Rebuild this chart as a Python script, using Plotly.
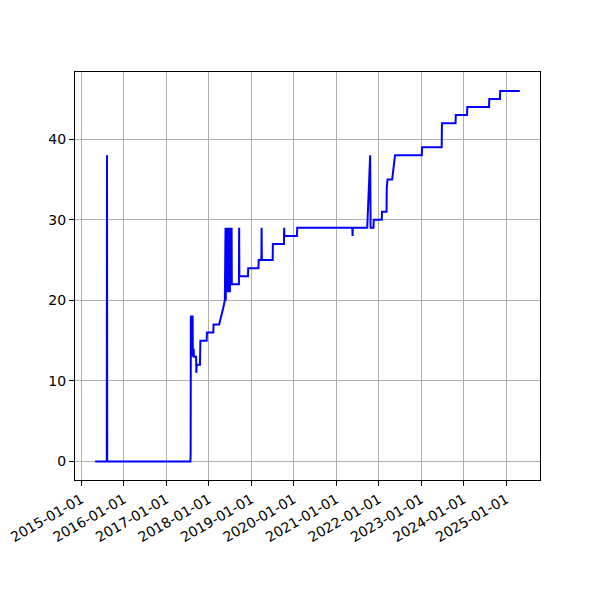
import plotly.graph_objects as go

dates = [
    "2015-05-01", "2015-08-09", "2015-08-11", "2015-08-13",
    "2017-07-28", "2017-07-30", "2017-08-01", "2017-08-16", "2017-08-18", "2017-08-25",
    "2017-08-28", "2017-09-15", "2017-09-17", "2017-09-20", "2017-10-18", "2017-10-22",
    "2017-12-15", "2017-12-17", "2018-02-10", "2018-02-12", "2018-04-01", "2018-04-20",
    "2018-05-05", "2018-05-20",
    "2018-05-22", "2018-05-24", "2018-05-26", "2018-05-28", "2018-05-30", "2018-06-01",
    "2018-06-03", "2018-06-05", "2018-06-07", "2018-06-09", "2018-06-11", "2018-06-13",
    "2018-06-15", "2018-06-17", "2018-06-19", "2018-06-21", "2018-06-23", "2018-06-25",
    "2018-06-27", "2018-06-29", "2018-07-01", "2018-07-03", "2018-07-05", "2018-07-07",
    "2018-07-09", "2018-07-11", "2018-07-13", "2018-07-15", "2018-07-17", "2018-07-19",
    "2018-09-18", "2018-09-20", "2018-09-22", "2018-12-05", "2018-12-07", "2019-03-05",
    "2019-03-07", "2019-03-30", "2019-04-01", "2019-04-03", "2019-07-05", "2019-07-07",
    "2019-10-10", "2019-10-12", "2019-10-14", "2020-01-30", "2020-02-01", "2021-05-20",
    "2021-05-22", "2021-05-24", "2021-09-25", "2021-10-20", "2021-10-24", "2021-11-18",
    "2021-11-20", "2022-01-28", "2022-01-30", "2022-03-10", "2022-03-12", "2022-03-18",
    "2022-04-27", "2022-05-22", "2023-01-07", "2023-01-09", "2023-06-27", "2023-06-29",
    "2023-10-24", "2023-10-26", "2024-01-31", "2024-02-02", "2024-08-07", "2024-08-09",
    "2024-11-09", "2024-11-11", "2025-04-28",
]
values = [
    0, 0, 38, 0,
    0, 1, 18, 18, 13, 14,
    13, 13, 11, 12, 12, 15,
    15, 16, 16, 17, 17, 18,
    19, 20,
    29, 21, 29, 20, 29, 21,
    29, 22, 29, 21, 29, 22,
    29, 21, 29, 22, 29, 21,
    29, 22, 29, 21, 29, 22,
    29, 22, 29, 22, 29, 22,
    22, 29, 23, 23, 24, 24,
    25, 25, 29, 25, 25, 27,
    27, 29, 28, 28, 29, 29,
    28, 29, 29, 38, 29, 29,
    30, 30, 31, 31, 34, 35,
    35, 38, 38, 39, 39, 42,
    42, 43, 43, 44, 44, 45,
    45, 46, 46,
]

tick_dates = ["2015-01-01", "2016-01-01", "2017-01-01", "2018-01-01", "2019-01-01",
              "2020-01-01", "2021-01-01", "2022-01-01", "2023-01-01", "2024-01-01",
              "2025-01-01"]
y_ticks = [0, 10, 20, 30, 40]

fig = go.Figure()
fig.add_trace(go.Scatter(x=dates, y=values, mode="lines",
                         line=dict(color="#0000ff", width=2), showlegend=False))

axis_common = dict(
    showline=True, linecolor="black", linewidth=1, mirror=True,
    ticks="outside", ticklen=5, tickwidth=1, tickcolor="black",
    showgrid=True, gridcolor="#b0b0b0", gridwidth=1, zeroline=False,
    automargin=False, ticklabeloverflow="allow",
    tickfont=dict(family="DejaVu Sans", size=14, color="black"),
)

fig.update_layout(
    width=600, height=600,
    margin=dict(l=67, r=68, t=64, b=128),
    paper_bgcolor="white", plot_bgcolor="white",
    xaxis=dict(type="date", range=["2014-11-09", "2025-10-19"],
               tickvals=tick_dates, ticktext=tick_dates, tickangle=-30, **axis_common),
    yaxis=dict(range=[-2.3, 48.35], tickvals=y_ticks,
               ticktext=[str(v) for v in y_ticks], **axis_common),
)

fig.write_html("out.html")
